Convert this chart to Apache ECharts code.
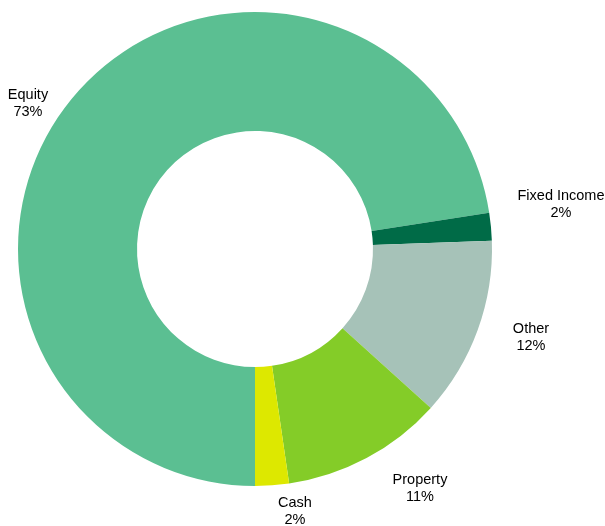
<!DOCTYPE html>
<html>
<head>
<meta charset="utf-8">
<script src="https://cdn.jsdelivr.net/npm/echarts@6/dist/echarts.min.js"></script>
<style>
  html, body { margin: 0; padding: 0; background: #fff; }
  #chart { width: 605px; height: 526px; }
</style>
</head>
<body>
<div id="chart"></div>
<script>
// data (percent of total)
var categories = ['Equity', 'Fixed Income', 'Other', 'Property', 'Cash'];
var values = [72.55, 1.9, 12.25, 11.0, 2.3];
var colors = ['#5bbf92', '#006b47', '#a6c2b8', '#84cc28', '#dde800'];

// where each label sits (centre of the text block)
var labelPos = [[28, 103], [561, 204], [531, 337], [420, 488], [295, 511]];

var chart = echarts.init(document.getElementById('chart'));

var pieData = categories.map(function (name, i) {
  return { name: name, value: values[i], itemStyle: { color: colors[i] } };
});

var option = {
  animation: false,
  series: [
    {
      type: 'pie',
      center: [255, 249],
      radius: [118, 237],
      startAngle: -90,
      clockwise: true,
      avoidLabelOverlap: false,
      data: pieData,
      itemStyle: { borderWidth: 0 },
      label: {
        show: true,
        position: 'outside',
        color: '#000',
        fontFamily: 'Liberation Sans, Arial, sans-serif',
        fontSize: 14.5,
        lineHeight: 17,
        align: 'center',
        formatter: function (p) {
          return p.name + '\n' + Math.round(p.percent) + '%';
        }
      },
      labelLine: { show: false },
      labelLayout: function (params) {
        var pos = labelPos[params.dataIndex];
        return { x: pos[0], y: pos[1], align: 'center', verticalAlign: 'middle' };
      },
      emphasis: { disabled: true }
    }
  ]
};
chart.setOption(option);
</script>
</body>
</html>
